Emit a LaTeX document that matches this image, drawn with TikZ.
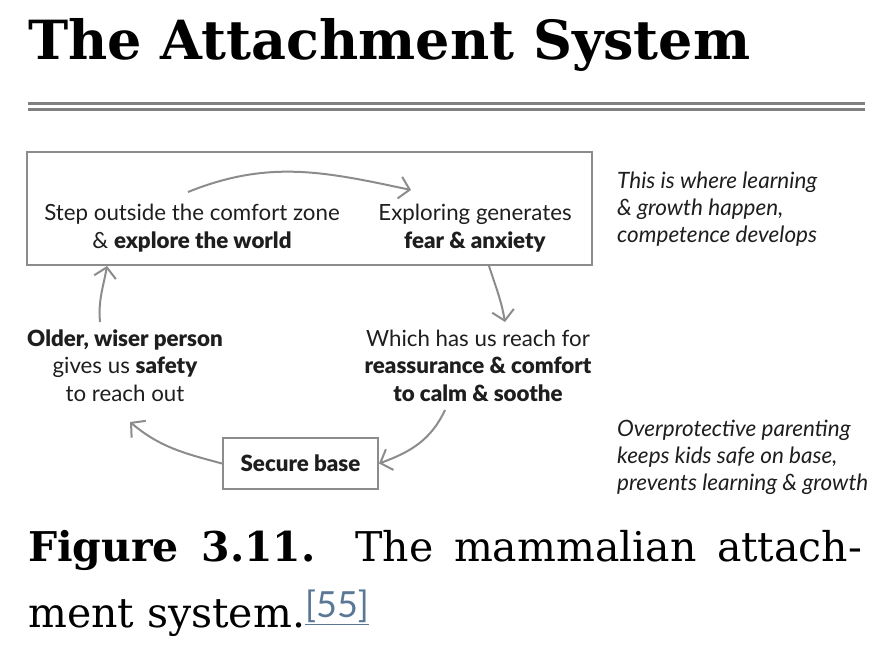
\documentclass[tikz,border=0pt]{standalone}
\usepackage{fontspec}
\setmainfont{DejaVu Serif}
\newfontfamily\diafont[BoldFont={Lato Black}]{Lato}
\usepackage{xcolor}
\usetikzlibrary{arrows.meta, calc, positioning}
\definecolor{mydark}{RGB}{30,30,30}
\definecolor{mygray}{RGB}{140,140,140}
\definecolor{myrule}{RGB}{128,128,128}
\definecolor{myref}{RGB}{90,120,150}
\tikzset{
  frame/.style={draw=mygray, line width=2pt, rectangle, inner sep=0pt},
  label/.style={text=mydark, align=center, inner sep=0pt, font=\diafont\fontsize{22.3}{27.5}\selectfont},
  note/.style={text=mydark, align=left, inner sep=0pt, anchor=north west, font=\diafont\itshape\fontsize{22.5}{27}\selectfont},
  arrow/.style={draw=mygray, line width=2pt, -{Straight Barb[length=10pt, width=22pt]}}
}
\begin{document}
\begin{tikzpicture}[x=1pt, y=1pt]
  \useasboundingbox (0,0) rectangle (895,651);

  % heading and double rule
  \node [anchor=base west, inner sep=0pt, font=\bfseries\fontsize{54}{54}\selectfont] (title) at (28,591) {The Attachment System};
  \draw [myrule, line width=3pt] (28,547) -- (865,547);
  \draw [myrule, line width=3pt] (28,541) -- (865,541);

  % cycle
  \node [frame, minimum width=565pt, minimum height=113pt] (cyclebox) at (309.5,442.5) {};
  \node [label] (step) at (192,423) {Step outside the comfort zone\\\& \textbf{explore the world}};
  \node [label] (fear) at (475,423) {Exploring generates\\\textbf{fear \& anxiety}};
  \node [label] (reach) at (478,285.5) {Which has us reach for\\\textbf{reassurance \& comfort}\\\textbf{to calm \& soothe}};
  \node [label, frame, minimum width=155pt, minimum height=51pt] (secure) at (300.5,187.5) {\textbf{Secure base}};
  \node [label] (older) at (125,285.5) {\textbf{Older, wiser person}\\gives us \textbf{safety}\\to reach out};

  \draw [arrow] ($(step.center)+(-4,36)$) to[out=22, in=168] ($(fear.center)+(-64,38)$);
  \draw [arrow] ($(cyclebox.south east)+(-104,0)$) to[out=-72, in=100] ($(reach.center)+(27,43.5)$);
  \draw [arrow] ($(reach.center)+(-33,-44.5)$) to[out=-115, in=20] (secure.east);
  \draw [arrow] (secure.west) to[out=165, in=-40] ($(older.center)+(5,-56.5)$);
  \draw [arrow] ($(older.center)+(-25,43.5)$) to[out=95, in=-100] ($(cyclebox.south west)+(81,0)$);

  % side notes
  \node [note] (growth) at (617,479) {This is where learning\\\& growth happen,\\competence develops};
  \node [note] (overprotect) at (617,231) {Overprotective parenting\\keeps kids safe on base,\\prevents learning \& growth};

  % caption
  \node [anchor=base west, inner sep=0pt, font=\fontsize{41}{41}\selectfont] (caption) at (28,89) {\makebox[834pt][s]{\textbf{Figure 3.11.} The mammalian attach-}};
  \node [anchor=base west, inner sep=0pt, font=\fontsize{41}{41}\selectfont] (caption2) at (28,23) {ment system.\raisebox{10pt}{\diafont\fontsize{36}{36}\selectfont\color{myref}\underline{[55]}}};
\end{tikzpicture}
\end{document}
